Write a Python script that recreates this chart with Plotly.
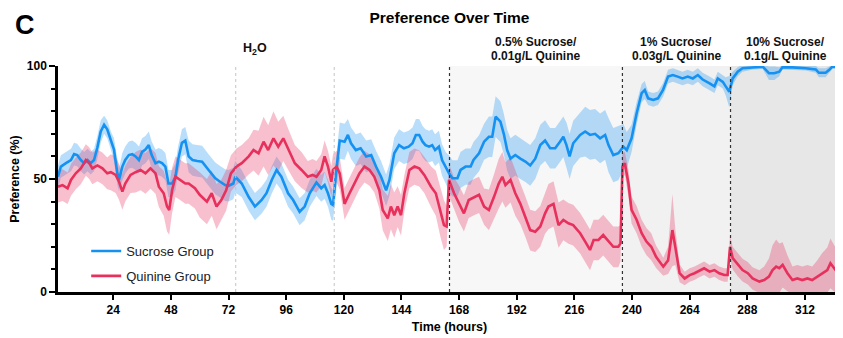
import plotly.graph_objects as go

# ---------------- data ----------------
t_suc = [
    1, 2.2, 4.3, 6.4, 7.7, 9, 10.5, 11.9, 13.3, 14.6,
    16, 17.4, 18.8, 20.2, 21.5, 23, 24.3, 25.7, 26.4, 27.8,
    29, 30.5, 31.9, 33.3, 34.7, 36, 37.4, 38.8, 40, 41.6,
    43, 44.3, 45.7, 47, 48.5, 49.9, 51, 52.6, 54, 55.4,
    57, 59, 61, 63.7, 66.5, 68.5, 70.6, 72, 74, 74.8,
    77.5, 80.4, 83, 85.8, 87.8, 90, 92, 94, 96.8, 98.9,
    101.6, 103.7, 105.8, 108.6, 110.6, 112, 113.4, 114.8, 115.5, 116.9,
    118.3, 120.3, 121.7, 123, 125, 127, 129.3, 131.4, 133.4, 135.5,
    137.6, 139, 141, 143, 145, 147, 148.6, 150, 151.4, 152.8,
    154, 155.5, 156.8, 158, 159.6, 160.9, 162.4, 163.8, 165.2, 167.3,
    168.6, 170.7, 172.8, 174, 176.3, 178.4, 180.4, 181.8, 183.2, 185.2,
    186.6, 188, 189.4, 191.4, 193.5, 195.6, 197.6, 199.7, 201.8, 203.8,
    205.9, 208, 210, 211.4, 212.7, 214, 215.5, 218.4, 220.5, 222.5,
    224.6, 226.7, 228.8, 230.2, 232.2, 234.3, 236.4, 237.8, 239.8, 241.9,
    244, 245.3, 246.7, 248.8, 250.8, 252.9, 255, 257, 259, 261,
    263.2, 265.3, 267.4, 269.4, 272.3, 274.3, 275.7, 277.8, 279, 280.5,
    281.9, 284, 286, 290.2, 294.4, 295.8, 297, 299.2, 301.3, 302.6,
    306.7, 312.3, 316.5, 317.8, 320.6, 322, 323.4, 327,
]
suc = [
    51, 55.5, 57, 58.4, 61, 60.6, 58.4, 57, 58.4, 57,
    58.4, 64, 71, 74, 72, 67, 63, 52.5, 49.6, 55.5,
    58.4, 60.6, 61, 60, 58.4, 62, 63, 65, 60.6, 57,
    57.7, 57, 55.5, 48, 48, 51, 58.4, 66, 67, 60,
    58.4, 58, 57.7, 54, 50.3, 48.8, 47.3, 47, 48, 51,
    48, 42, 37.8, 40.7, 43.7, 49.6, 54, 51, 43.7, 40.7,
    35.5, 37.8, 43.7, 48.5, 45.9, 47.3, 43.7, 39, 38.5, 54,
    67, 66.5, 69.5, 65.8, 62.8, 63.6, 60, 60.6, 55.5, 51,
    45, 49.6, 61.4, 65, 63.6, 64.3, 65.8, 69.5, 69.5, 66.5,
    65, 64.3, 65, 62.8, 64.3, 58.4, 55, 52.5, 50.3, 50.3,
    54, 55.5, 55.5, 58.4, 61.4, 66.5, 68.7, 68.7, 77.6, 75.4,
    70, 62.8, 59, 60.6, 59, 57.7, 56, 59, 65, 67,
    63.6, 63.6, 66.5, 68.7, 65, 60, 65.8, 69.5, 71, 69.5,
    70, 68, 69.5, 65, 60.6, 61.4, 64.3, 62.8, 68, 79,
    88, 89.4, 85.7, 85, 85.7, 89.4, 95.3, 96, 95.3, 94.5,
    95.3, 94.5, 96, 94, 92.3, 91, 94.5, 93, 91, 88.6,
    94.5, 97.5, 99, 99.4, 99.7, 98.2, 96.8, 96.8, 97.5, 99.4,
    99.4, 99, 98.5, 97, 97, 98.2, 99.7, 99.7,
]
suc_sem = [
    5, 5, 5, 5, 5, 5, 5, 5, 5, 5,
    5, 5, 5, 4, 4, 4, 5, 5, 5, 6,
    6, 6, 6, 6, 6, 6, 6, 6, 6, 6,
    6, 6, 6, 6, 6, 6, 6, 6, 6, 7,
    7, 7, 7, 7, 7, 7, 7, 7, 7, 7,
    6, 6, 6, 6, 6, 6, 6, 6, 6, 6,
    6, 6, 6, 6, 6, 6, 6, 7, 7, 8,
    8, 8, 7, 7, 7, 7, 7, 7, 7, 7,
    7, 7, 7, 7, 7, 7, 7, 7, 7, 7,
    7, 7, 7, 7, 7, 7, 7, 8, 8, 8,
    8, 8, 8, 8, 8, 8, 9, 9, 9, 9,
    9, 9, 9, 9, 9, 9, 9, 9, 9, 9,
    9, 9, 9, 9, 10, 10, 10, 10, 11, 11,
    11, 11, 11, 12, 12, 12, 10, 8, 6, 5,
    4, 4, 3, 3, 3, 3, 3, 3, 3, 3,
    3, 3, 3, 3, 3, 3, 3, 3, 4, 7,
    3, 2, 1.5, 1, 1, 2, 3, 3, 2, 1,
    1, 1, 1.5, 2, 2, 1.5, 1, 1,
]

t_qui = [
    1, 2.9, 5, 6.4, 8.4, 10.5, 12.6, 14, 15.3, 17.4,
    19.5, 21.5, 23, 25, 26.4, 27.8, 29, 31.2, 33.3, 35.4,
    37.4, 39.5, 41.6, 43, 45, 46.4, 47.3, 48.5, 49.9, 52,
    54, 55.4, 58, 60, 63, 65, 67, 69, 71, 73,
    75.3, 77.5, 80.4, 82.4, 84.5, 86.6, 88.5, 90.7, 92.7, 94.8,
    97, 99.6, 102.4, 105, 107, 108.6, 110.6, 112, 113.4, 114.8,
    115.5, 117, 118.3, 120.3, 122.4, 124.5, 126.5, 128.6, 130.7, 132.7,
    134.8, 136.2, 138.3, 139.6, 141, 142.4, 143.8, 145.2, 147.3, 149.4,
    151.4, 153.5, 156.3, 158.3, 160.3, 161.7, 162.8, 163.8, 165.9, 168,
    170, 172, 174.2, 176.3, 178.4, 180.4, 182.5, 184.5, 186, 187.3,
    189.4, 191.4, 193.5, 195.6, 197.6, 199.7, 201.8, 203.8, 205.2, 207.3,
    209.4, 211.4, 213.5, 215.5, 218.4, 220.5, 222.5, 224, 226, 228,
    230.2, 232.2, 234.3, 235.2, 236, 237, 238.5, 239.8, 241.9, 244,
    246, 248, 250, 253, 255, 256.8, 258, 259.8, 261.9, 264,
    266, 268, 270, 272.3, 274.3, 276.3, 278.4, 279.8, 280.8, 281.9,
    284, 286, 288.2, 290.2, 293, 295, 297, 298.5, 300, 301.3,
    302.7, 304.7, 306.8, 308.8, 310.9, 313, 315, 317, 319.2, 321.3,
    322.6, 324.7, 327,
]
qui = [
    46.6, 47.3, 45.9, 49.6, 52.5, 54.7, 58.4, 57, 54.7, 56,
    54.7, 52.5, 53, 51.8, 48.8, 44.4, 48, 51.8, 53, 54,
    52.5, 54.7, 52.5, 46.6, 43.7, 37.8, 36.3, 45, 51, 49.6,
    48, 48, 45.9, 43, 40, 43.7, 37.8, 40.7, 45, 52.5,
    55.5, 57, 60, 62.8, 61.4, 66.5, 62.8, 68, 64.3, 68,
    62.8, 57, 54, 51, 51.8, 51, 54, 60, 55.5, 48.8,
    54, 55.5, 52.5, 39, 43.7, 48, 52.5, 55.5, 54, 51,
    45, 36.3, 32.6, 37.8, 34, 37.8, 34, 43.7, 54, 55.5,
    54.7, 51.8, 46.6, 43.7, 35, 29.6, 29, 49.6, 43.7, 39,
    34.8, 40.7, 42, 43, 37.8, 36.3, 42, 48, 51, 47.3,
    49.6, 43.7, 39, 33.3, 27.4, 26.7, 29, 34.8, 37.8, 39,
    29.6, 31.9, 30.4, 29.6, 26, 22.3, 18.6, 23, 23, 25.2,
    22.3, 20, 20, 21.5, 55.5, 57, 48, 36.3, 32, 26,
    22.3, 20, 15.6, 11.2, 14, 27.4, 20, 8.3, 6, 7.5,
    8.3, 9.5, 10.5, 9, 9.7, 8.3, 7.5, 7.5, 20, 15,
    12, 9.7, 8.3, 6, 4.6, 5.3, 6.8, 9.7, 11.2, 10.5,
    12, 8.3, 5.3, 6, 5.3, 6, 5.3, 6.8, 8.3, 9.7,
    12.7, 9.7, 11.2,
]
qui_sem = [
    7, 7, 7, 7, 7, 7, 7, 7, 7, 7,
    7, 7, 8, 8, 8, 8, 8, 8, 9, 9,
    9, 9, 9, 9, 10, 11, 11, 10, 9, 9,
    9, 9, 9, 10, 10, 10, 10, 9, 9, 8,
    8, 8, 8, 9, 10, 11, 11, 12, 11, 10,
    9, 8, 8, 7, 7, 7, 7, 7, 7, 7,
    7, 7, 7, 7, 7, 7, 7, 7, 7, 7,
    8, 9, 10, 10, 10, 9, 9, 8, 8, 8,
    8, 8, 9, 10, 11, 11, 9, 7, 7, 8,
    8, 8, 8, 8, 8, 9, 10, 11, 11, 10,
    10, 10, 9, 9, 9, 9, 9, 9, 10, 10,
    10, 9, 9, 9, 9, 9, 9, 9, 9, 9,
    9, 9, 9, 8, 6, 5, 6, 6, 6, 6,
    6, 6, 5, 4, 6, 16, 8, 4, 3, 3,
    3, 3, 3, 3, 3, 3, 3, 3, 5, 5,
    5, 5, 5, 5, 5, 6, 8, 11, 12, 11,
    10, 8, 6, 6, 6, 6, 6, 7, 9, 10,
    11, 10, 9,
]

assert len(t_suc) == len(suc) == len(suc_sem)
assert len(t_qui) == len(qui) == len(qui_sem)

x_ticks = [24, 48, 72, 96, 120, 144, 168, 192, 216, 240, 264, 288, 312]
y_ticks = [0, 50, 100]
phase_bounds = [164, 236, 281, 327]
phase_line1 = ["0.5% Sucrose/", "1% Sucrose/", "10% Sucrose/"]
phase_line2 = ["0.01g/L Quinine", "0.03g/L Quinine", "0.1g/L Quinine"]
phase_fills = ["#f7f7f7", "#f1f1f1", "#e7e7e7"]
gray_lines = [75, 116]
h2o_label_x = 83

BLUE = "#1591F2"
RED = "#E8305C"
FONT = "Liberation Sans, Arial, sans-serif"

# page body has an 8px offset; figure is sized so the plot lands where the reference has it
W, H = 835, 330
PLOT_H = 226

fig = go.Figure()


def band(t, y, s, color):
    up = [a + b for a, b in zip(y, s)]
    lo = [a - b for a, b in zip(y, s)]
    return go.Scatter(x=list(t) + list(t)[::-1], y=up + lo[::-1], fill="toself",
                      fillcolor=color, line=dict(width=0), mode="lines",
                      hoverinfo="skip", showlegend=False)


fig.add_trace(band(t_suc, suc, suc_sem, "rgba(21,145,242,0.30)"))
fig.add_trace(band(t_qui, qui, qui_sem, "rgba(232,48,92,0.30)"))
fig.add_trace(go.Scatter(x=t_suc, y=suc, mode="lines", name="Sucrose Group",
                         line=dict(color=BLUE, width=2.6), legendgroup="a"))
fig.add_trace(go.Scatter(x=t_qui, y=qui, mode="lines", name="Quinine Group",
                         line=dict(color=RED, width=2.6), legendgroup="b"))

shapes = []
for i in range(3):
    shapes.append(dict(type="rect", xref="x", yref="y", x0=phase_bounds[i], x1=phase_bounds[i + 1],
                       y0=0, y1=100, fillcolor=phase_fills[i], line=dict(width=0), layer="below"))
for gx in gray_lines:
    shapes.append(dict(type="line", xref="x", yref="y", x0=gx, x1=gx, y0=0, y1=100,
                       line=dict(color="#c4c4c4", width=1, dash="dot")))
for bx in phase_bounds[:3]:
    shapes.append(dict(type="line", xref="x", yref="y", x0=bx, x1=bx, y0=0, y1=100,
                       line=dict(color="#333333", width=1.2, dash="dot")))


def py(pix):
    """paper y for a page pixel row (plot top at 66, bottom at 292)."""
    return (292 - pix) / PLOT_H


annotations = [
    dict(text="<b>C</b>", xref="paper", yref="paper", x=-0.042, y=py(25), showarrow=False,
         font=dict(size=27, color="#000", family=FONT), xanchor="center", yanchor="middle"),
    dict(text="<b>H<sub>2</sub>O</b>", xref="x", yref="paper", x=h2o_label_x, y=py(49),
         showarrow=False, font=dict(size=12.5, color="#111", family=FONT),
         xanchor="center", yanchor="middle"),
]
for i in range(3):
    xc = (phase_bounds[i] + phase_bounds[i + 1]) / 2
    annotations.append(dict(text="<b>" + phase_line1[i] + "</b>", xref="x", yref="paper",
                            x=xc, y=py(42), showarrow=False,
                            font=dict(size=12, color="#111", family=FONT),
                            xanchor="center", yanchor="middle"))
    annotations.append(dict(text="<b>" + phase_line2[i] + "</b>", xref="x", yref="paper",
                            x=xc, y=py(55.5), showarrow=False,
                            font=dict(size=12, color="#111", family=FONT),
                            xanchor="center", yanchor="middle"))

fig.update_layout(
    width=W, height=H,
    margin=dict(l=47, r=2, t=58, b=H - 58 - PLOT_H),
    paper_bgcolor="white", plot_bgcolor="white",
    title=dict(text="<b>Preference Over Time</b>", x=0.5, xref="paper", y=1 - 9.5 / H,
               yanchor="middle", font=dict(size=15.5, color="#000", family=FONT)),
    font=dict(family=FONT, color="#000"),
    showlegend=True,
    legend=dict(x=0.036, y=py(236), xanchor="left", yanchor="top", bgcolor="rgba(0,0,0,0)",
                font=dict(size=13, color="#222", family=FONT), traceorder="grouped",
                tracegroupgap=5),
    shapes=shapes,
    annotations=annotations,
    xaxis=dict(range=[1, 327], tickvals=x_ticks, ticks="outside", ticklen=5, tickwidth=2,
               tickcolor="#000", showline=True, linecolor="#000", linewidth=2.5,
               showgrid=False, zeroline=False,
               tickfont=dict(size=12, family=FONT, color="#000", weight="bold"),
               title=dict(text="<b>Time (hours)</b>", font=dict(size=12.5, family=FONT), standoff=7)),
    yaxis=dict(range=[0, 100], tickvals=y_ticks, ticks="outside", ticklen=6, tickwidth=2,
               tickcolor="#000", showline=True, linecolor="#000", linewidth=2.5,
               showgrid=False, zeroline=False,
               minor=dict(dtick=10, ticks="outside", ticklen=4, tickwidth=1.5, tickcolor="#000"),
               tickfont=dict(size=12, family=FONT, color="#000", weight="bold"),
               title=dict(text="<b>Preference (%)</b>", font=dict(size=12.5, family=FONT), standoff=8)),
)

fig.write_html("out.html")
